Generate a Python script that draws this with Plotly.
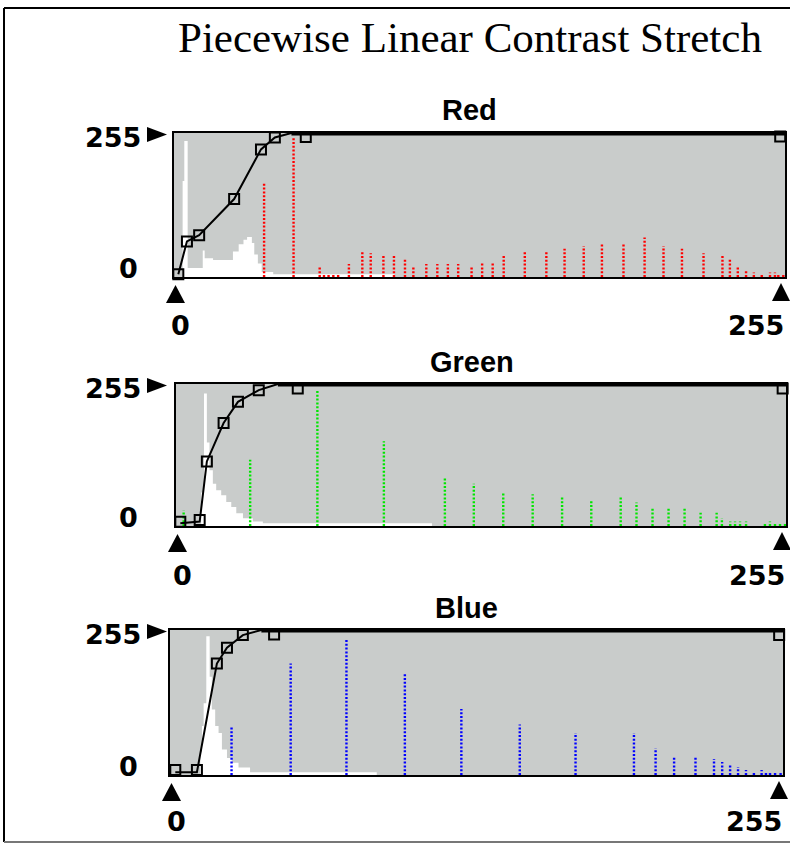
import plotly.graph_objects as go

W, H = 790, 844

# ---------------- data (0..255 intensity units) ----------------
channels = ["Red", "Green", "Blue"]
dot_colors = ["#ff0000", "#00e600", "#0000ff"]

# input histograms (white, step area)
red_in_x = [0, 3.6, 4.3, 5.7, 12, 12.8, 16.3, 20, 24.6, 27, 29, 30.5, 32.5, 33.5, 35, 36.6, 41.4, 92, 255]
red_in_y = [0, 170, 241, 16, 47, 33, 30, 30, 45, 58, 66, 71, 60, 40, 24, 9, 5, 0, 0]
green_in_x = [0, 10.5, 11.7, 12.9, 14, 15.4, 16.8, 18.9, 21, 23.1, 25.2, 28, 32.1, 36.3, 107, 255]
green_in_y = [0, 60, 238, 150, 100, 76, 64, 55, 43, 34, 23, 14, 8, 5, 0, 0]
blue_in_x = [0, 12.6, 13.3, 14, 15.1, 16.5, 17.4, 18.8, 20.2, 21.6, 23.7, 25.7, 28.5, 33.3, 86, 255]
blue_in_y = [0, 40, 86, 126, 244, 173, 115, 86, 74, 45, 30, 21.5, 13, 5, 0, 0]

# output (stretched) histograms, dotted bars
red_out_x = [37.6, 49.9, 60.8, 62.6, 64.5, 66.5, 68.5, 73, 78.6, 82.1, 87.4, 91.8, 96.4, 99.9,
             105.3, 109.9, 114.3, 118.6, 124.2, 128.6, 133, 137.6, 146.4, 155.4, 163, 171,
             178.6, 187.6, 196.4, 204.3, 212, 221, 228.9, 232, 235.3, 238.75, 242, 245.3,
             248.75, 250.8, 252.2, 254.3]
red_out_y = [165, 246, 18, 5, 5, 5, 5, 23, 46, 42, 37, 37, 33, 18, 23, 23, 23, 23, 18, 27, 27,
             37, 46, 46, 50, 55, 60, 60, 70, 55, 50, 42, 37, 33, 18, 13, 8, 4, 8, 8, 4, 4]
green_out_x = [3.2, 31, 59.1, 86.9, 112.4, 124.5, 136.8, 149.1, 161.4, 173.6, 185.9, 192.5,
               199.2, 205.9, 212.6, 219.3, 226, 228.2, 231.7, 233.7, 235.8, 238.3, 246.2,
               248.3, 250.4, 252.5, 254.6]
green_out_y = [28, 119, 244, 152, 89, 76, 61, 57, 52, 47, 52, 42, 33, 33, 33, 24, 24, 14, 8,
               8, 8, 8, 5, 8, 6, 4, 4]
blue_out_x = [25.6, 50.2, 73.4, 97.7, 121.2, 145.5, 168.7, 193, 202, 209.7, 218.6, 226.3,
              229.7, 233, 236.3, 239.6, 242.9, 246.1, 247.9, 249.6, 251.7, 254]
blue_out_y = [84, 196, 239, 179, 116, 89, 74, 74, 47, 33, 33, 28, 23, 19, 14, 9, 4, 9, 4, 4, 4, 4]

# piecewise linear transfer curves
red_curve_x = [1.8, 5.4, 10.5, 25.1, 36.3, 42.1, 49, 255]
red_curve_y = [5, 63, 74, 138, 226, 247, 255, 255]
red_knot_x = [1.8, 5.4, 10.5, 25.1, 36.3, 42.1, 55, 253]
red_knot_y = [5, 63, 74, 138, 226, 247, 248, 249]
green_curve_x = [1.8, 9.9, 12.9, 19.9, 25.9, 34.6, 42.6, 255]
green_curve_y = [5, 8, 116, 185, 223, 244, 255, 255]
green_knot_x = [1.8, 9.9, 12.9, 19.9, 25.9, 34.6, 50.9, 253.6]
green_knot_y = [7.7, 10.7, 116, 185, 223, 244, 247, 247]
blue_curve_x = [2.2, 11.2, 19.5, 23.7, 30.3, 38, 255]
blue_curve_y = [5, 5, 196, 224, 246, 255, 255]
blue_knot_x = [2.2, 11.2, 19.5, 23.7, 30.3, 43.3, 253.4]
blue_knot_y = [8.7, 8.7, 196, 224, 246, 247, 246]

tick_lo, tick_hi = "0", "255"
main_title = "Piecewise Linear Contrast Stretch"

inputs = [(red_in_x, red_in_y), (green_in_x, green_in_y), (blue_in_x, blue_in_y)]
outputs = [(red_out_x, red_out_y), (green_out_x, green_out_y), (blue_out_x, blue_out_y)]
curves = [(red_curve_x, red_curve_y), (green_curve_x, green_curve_y), (blue_curve_x, blue_curve_y)]
knots = [(red_knot_x, red_knot_y), (green_knot_x, green_knot_y), (blue_knot_x, blue_knot_y)]

# ---------------- layout geometry (pixels) ----------------
boxes = [(174, 785, 133, 277), (176, 786, 384, 526), (170, 783, 630, 775)]
title_pos = [(470, 110), (472, 362), (466, 608)]
bottom_dy = [49, 49, 46]


def px(x):
    return x / W


def py(y):
    return 1 - y / H


def tri(pts):
    p = "M %f,%f " % (px(pts[0][0]), py(pts[0][1]))
    for a, b in pts[1:]:
        p += "L %f,%f " % (px(a), py(b))
    return p + "Z"


fig = go.Figure()
layout = dict(width=W, height=H, margin=dict(l=0, r=0, t=0, b=0),
              paper_bgcolor="white", plot_bgcolor="#c9cccb", showlegend=False)
annotations = []
shapes = []

for i, name in enumerate(channels):
    k = "" if i == 0 else str(i + 1)
    xa, ya = "x" + k, "y" + k
    L, R, T, B = boxes[i]
    layout["xaxis" + k] = dict(domain=[px(L), px(R)], range=[0, 255], showticklabels=False,
                               showgrid=False, zeroline=False, showline=True, linecolor="black",
                               linewidth=2, mirror=True, ticks="", anchor=ya, fixedrange=True)
    layout["yaxis" + k] = dict(domain=[py(B), py(T)], range=[0, 255], showticklabels=False,
                               showgrid=False, zeroline=False, showline=True, linecolor="black",
                               linewidth=2, mirror=True, ticks="", anchor=xa, fixedrange=True)
    ix, iy = inputs[i]
    fig.add_trace(go.Scatter(x=ix, y=iy, xaxis=xa, yaxis=ya, mode="lines", line_shape="hv",
                             line=dict(width=0, color="white"), fill="tozeroy",
                             fillcolor="white", hoverinfo="skip"))
    ox, oy = outputs[i]
    sx, sy = [], []
    for xv, yv in zip(ox, oy):
        sx += [xv, xv, None]
        sy += [0, yv, None]
    fig.add_trace(go.Scatter(x=sx, y=sy, xaxis=xa, yaxis=ya, mode="lines",
                             line=dict(color=dot_colors[i], width=2.4, dash="2px,1.8px")))
    cx, cy = curves[i]
    fig.add_trace(go.Scatter(x=cx, y=cy, xaxis=xa, yaxis=ya, mode="lines",
                             line=dict(color="black", width=2)))
    fig.add_trace(go.Scatter(x=[cx[-2], cx[-1]], y=[255, 255], xaxis=xa, yaxis=ya, mode="lines",
                             line=dict(color="black", width=5)))
    kx, ky = knots[i]
    fig.add_trace(go.Scatter(x=kx, y=ky, xaxis=xa, yaxis=ya, mode="markers", cliponaxis=False,
                             marker=dict(symbol="square-open", size=10, color="black",
                                         line=dict(width=2, color="black"))))

    # panel title
    tx, ty = title_pos[i]
    annotations.append(dict(text="<b>%s</b>" % name, x=px(tx), y=py(ty), xref="paper", yref="paper",
                            showarrow=False, xanchor="center", yanchor="middle",
                            font=dict(family="Liberation Sans", size=29, color="black")))
    lab_font = dict(family="DejaVu Sans", size=27, color="black")
    annotations.append(dict(text="<b>%s</b>" % tick_hi, x=px(143), y=py(T + 4), xref="paper",
                            yref="paper", showarrow=False, xanchor="right", yanchor="middle",
                            font=lab_font))
    annotations.append(dict(text="<b>%s</b>" % tick_lo, x=px(128), y=py(B - 9), xref="paper",
                            yref="paper", showarrow=False, xanchor="center", yanchor="middle",
                            font=lab_font))
    annotations.append(dict(text="<b>%s</b>" % tick_lo, x=px(L + 6), y=py(B + bottom_dy[i]),
                            xref="paper", yref="paper", showarrow=False, xanchor="center",
                            yanchor="middle", font=lab_font))
    annotations.append(dict(text="<b>%s</b>" % tick_hi, x=px(R + 1), y=py(B + bottom_dy[i]),
                            xref="paper", yref="paper", showarrow=False, xanchor="right",
                            yanchor="middle", font=lab_font))
    # triangles
    shapes.append(dict(type="path", xref="paper", yref="paper", fillcolor="black",
                       line=dict(width=0), path=tri([(147, T - 6), (147, T + 9), (167, T + 1.5)])))
    shapes.append(dict(type="path", xref="paper", yref="paper", fillcolor="black",
                       line=dict(width=0), path=tri([(L + 1.5, B + 8), (L - 8, B + 26), (L + 11, B + 26)])))
    shapes.append(dict(type="path", xref="paper", yref="paper", fillcolor="black",
                       line=dict(width=0), path=tri([(R - 4, B + 6), (R - 13, B + 24), (R + 5, B + 24)])))

annotations.append(dict(text=main_title, x=px(470), y=py(38), xref="paper", yref="paper",
                        showarrow=False, xanchor="center", yanchor="middle",
                        font=dict(family="Liberation Serif", size=43, color="black")))

# outer frame
shapes.append(dict(type="line", xref="paper", yref="paper", x0=px(4), x1=px(795), y0=py(8), y1=py(8),
                   line=dict(color="black", width=2)))
shapes.append(dict(type="line", xref="paper", yref="paper", x0=px(4), x1=px(4), y0=py(8), y1=py(842),
                   line=dict(color="black", width=2)))
shapes.append(dict(type="line", xref="paper", yref="paper", x0=px(4), x1=px(795), y0=py(842), y1=py(842),
                   line=dict(color="#777777", width=2)))

layout["annotations"] = annotations
layout["shapes"] = shapes
fig.update_layout(**layout)
fig.write_html("out.html")
